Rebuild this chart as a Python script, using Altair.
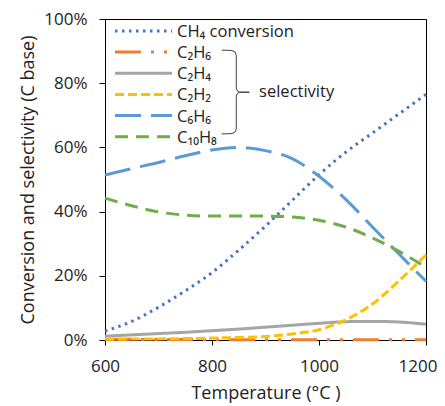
import altair as alt
import pandas as pd

# ---- data ----
temps = [600, 650, 700, 750, 800, 850, 900, 950, 1000, 1050, 1100, 1150, 1200]
ch4_conv = [2.8, 5.8, 10.2, 15.3, 21.0, 28.0, 35.5, 43.5, 51.5, 58.5, 64.5, 70.5, 76.5]
c2h6 = [0.2, 0.2, 0.15, 0.15, 0.1, 0.1, 0.1, 0.1, 0.1, 0.1, 0.1, 0.05, 0.05]
c2h4 = [1.2, 1.6, 2.0, 2.4, 2.9, 3.4, 4.0, 4.6, 5.2, 5.7, 5.8, 5.6, 4.9]
c2h2 = [0.2, 0.3, 0.35, 0.45, 0.6, 0.8, 1.1, 1.9, 3.2, 6.3, 11.2, 18.5, 26.5]
c6h6 = [51.4, 53.4, 55.3, 57.4, 59.2, 60.0, 59.0, 56.5, 51.0, 43.8, 35.2, 26.7, 18.3]
c10h8 = [44.2, 41.8, 39.9, 38.9, 38.6, 38.6, 38.6, 38.3, 37.3, 35.2, 31.8, 27.6, 22.6]

series_names = ["CH₄ conversion", "C₂H₆", "C₂H₄", "C₂H₂", "C₆H₆", "C₁₀H₈"]
series_values = [ch4_conv, c2h6, c2h4, c2h2, c6h6, c10h8]
colors = ["#4472C4", "#ED7D31", "#A5A5A5", "#FFC000", "#5B9BD5", "#70AD47"]
dashes = [[2.5, 4.5], [26, 10, 3, 10, 3, 10], [1, 0], [9, 4], [26, 10], [13, 8]]

x_ticks = [600, 800, 1000, 1200]
y_ticks = [0, 20, 40, 60, 80, 100]

# in-plot legend placement (data coordinates)
legend_T = [618.7, 725.2]
legend_label_T = 734.6
legend_top = 96.3
legend_step = 6.6

# brace annotation (data coordinates) and its label
brace_T = [818.1, 837.4, 843.0, 845.4, 845.4, 847.3, 851.4, 869.7, 851.4, 847.3, 845.4, 845.4, 843.0, 837.4, 818.1]
brace_v = [90.3, 90.2, 89.7, 88.6, 78.5, 77.6, 77.2, 77.2, 77.2, 76.8, 75.9, 65.7, 64.8, 64.3, 64.2]
note_text = ["selectivity"]
note_T = [888]
note_v = [77.2]

# ---- tables ----
rows = []
for name, vals in zip(series_names, series_values):
    for t, v in zip(temps, vals):
        rows.append({"T": t, "value": v, "series": name})
df = pd.DataFrame(rows)

leg_rows, leg_lab = [], []
for i, name in enumerate(series_names):
    yv = legend_top - legend_step * i
    for t in legend_T:
        leg_rows.append({"T": t, "value": yv, "series": name})
    leg_lab.append({"T": legend_label_T, "value": yv, "label": name})
df_leg = pd.DataFrame(leg_rows)
df_leg_lab = pd.DataFrame(leg_lab)

df_brace = pd.DataFrame({"T": brace_T, "value": brace_v, "i": list(range(len(brace_T)))})
df_note = pd.DataFrame({"T": note_T, "value": note_v, "label": note_text})

FONT = "Open Sans"
TXT = "#222222"

xs = alt.Scale(domain=[600, 1200], nice=False, zero=False)
ys = alt.Scale(domain=[0, 100], nice=False)
cs = alt.Scale(domain=series_names, range=colors)
ds = alt.Scale(domain=series_names, range=dashes)

x_enc = alt.X("T:Q", scale=xs, axis=alt.Axis(
    values=x_ticks, format="d", title="Temperature (°C )", tickSize=5, labelPadding=13,
    titlePadding=10, labelFlush=False,
    labelAlign={"condition": {"test": "datum.value == 1200", "value": "right"}, "value": "center"},
    labelOffset={"condition": {"test": "datum.value == 1200", "value": 11}, "value": 0}))
y_enc = alt.Y("value:Q", scale=ys, axis=alt.Axis(
    values=y_ticks, title="Conversion and selectivity (C base)", tickSize=6,
    labelPadding=12, titlePadding=6, labelExpr="datum.value + '%'"))

lines = alt.Chart(df).mark_line(strokeWidth=3, interpolate="monotone", clip=False).encode(
    x=x_enc,
    y=y_enc,
    color=alt.Color("series:N", scale=cs, legend=None),
    strokeDash=alt.StrokeDash("series:N", scale=ds, legend=None),
    order=alt.Order("T:Q"),
)

leg_lines = alt.Chart(df_leg).mark_line(strokeWidth=3).encode(
    x=alt.X("T:Q", scale=xs),
    y=alt.Y("value:Q", scale=ys),
    color=alt.Color("series:N", scale=cs, legend=None),
    strokeDash=alt.StrokeDash("series:N", scale=ds, legend=None),
    order=alt.Order("T:Q"),
)

leg_text = alt.Chart(df_leg_lab).mark_text(font=FONT, fontSize=16.5, color=TXT, align="left",
                                           baseline="middle", dy=1).encode(
    x=alt.X("T:Q", scale=xs),
    y=alt.Y("value:Q", scale=ys),
    text="label:N",
)

brace = alt.Chart(df_brace).mark_line(stroke="#404040", strokeWidth=1, clip=False).encode(
    x=alt.X("T:Q", scale=xs),
    y=alt.Y("value:Q", scale=ys),
    order=alt.Order("i:Q"),
)

note = alt.Chart(df_note).mark_text(font=FONT, fontSize=16.5, color=TXT, align="left",
                                    baseline="middle").encode(
    x=alt.X("T:Q", scale=xs),
    y=alt.Y("value:Q", scale=ys),
    text="label:N",
)

chart = alt.layer(lines, leg_lines, leg_text, brace, note).properties(
    width=321, height=321,
    autosize=alt.AutoSizeParams(type="none"),
    padding={"left": 97, "top": 11, "right": 11, "bottom": 64},
).configure_view(stroke="#000000", strokeWidth=1).configure_axis(
    grid=False, domainColor="#000000", tickColor="#000000",
    labelFont=FONT, labelFontSize=17, labelColor=TXT,
    titleFont=FONT, titleFontSize=18, titleFontWeight="normal", titleColor=TXT,
)

chart.save("out.html", embed_options={"renderer": "svg", "actions": False})
